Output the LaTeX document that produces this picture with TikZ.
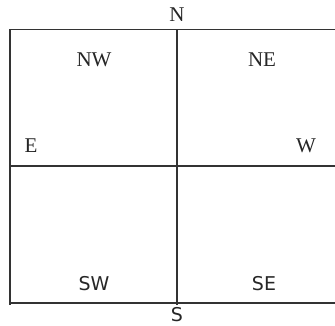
\documentclass[tikz,border=0pt]{standalone}
\usepackage{fontspec}
\setmainfont{Liberation Serif}
\newfontfamily\compasssans{DejaVu Sans}

\tikzset{
  gridline/.style={line width=1.6pt, draw=black!80},
  toplabel/.style={font=\fontsize{21}{21}\selectfont, text=black!85, inner sep=0pt, anchor=base},
  botlabel/.style={font=\compasssans\fontsize{19}{19}\selectfont, text=black!85, inner sep=0pt, anchor=base}
}

\begin{document}
\begin{tikzpicture}[x=1pt, y=-1pt]
  \useasboundingbox (0,0) rectangle (335,326);

  % frame corners and cross
  \coordinate (tl) at (10,29.5);
  \coordinate (tr) at (335,29.5);
  \coordinate (ml) at (10,166);
  \coordinate (mr) at (335,166);
  \coordinate (bl) at (10,303);
  \coordinate (br) at (335,303);
  \coordinate (tc) at (177,29.5);
  \coordinate (bc) at (177,305);
  \coordinate (blx) at (10,305);

  \draw[gridline] (tl) -- (tr);
  \draw[gridline] (ml) -- (mr);
  \draw[gridline] (bl) -- (br);
  \draw[gridline] (tl) -- (blx);
  \draw[gridline] (tc) -- (bc);

  % labels
  \node[toplabel] (n)  at (177,22)  {N};
  \node[toplabel] (nw) at (94,67)   {NW};
  \node[toplabel] (ne) at (262,67)  {NE};
  \node[toplabel] (e)  at (31,153)  {E};
  \node[toplabel] (w)  at (306,153) {W};
  \node[botlabel] (sw) at (94,290)  {SW};
  \node[botlabel] (se) at (264,290) {SE};
  \node[botlabel] (s)  at (177,321) {S};
\end{tikzpicture}
\end{document}
